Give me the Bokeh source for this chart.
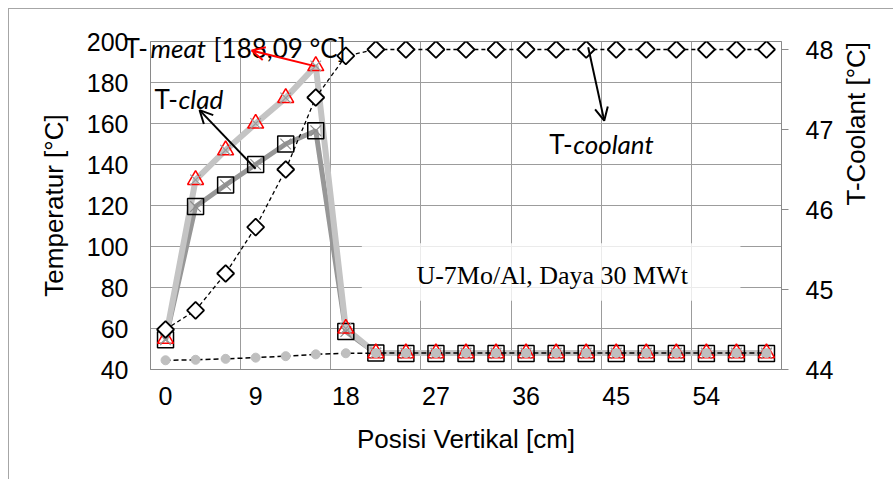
import math
from bokeh.plotting import figure
from bokeh.models import (Range1d, LinearAxis, FixedTicker, Label, Arrow,
                          OpenHead, BoxAnnotation)
from bokeh.embed import file_html
from bokeh.resources import INLINE

# ---------------- data ----------------
posisi = [0, 3, 6, 9, 12, 15, 18, 21, 24, 27, 30, 33, 36, 39, 42, 45, 48, 51, 54, 57, 60]
t_meat = [55, 132.5, 147, 160, 172.5, 188.09, 60, 48, 48, 48, 48, 48, 48, 48, 48, 48, 48, 48, 48, 48, 48]
t_clad = [54.5, 119.5, 130, 140, 150, 156.5, 58.5, 48, 47.8, 47.8, 47.8, 47.8, 47.8, 47.8, 47.8, 47.8, 47.8, 47.8, 47.8, 47.8, 47.8]
t_coolant = [44.5, 44.74, 45.2, 45.78, 46.5, 47.4, 47.92, 48, 48, 48, 48, 48, 48, 48, 48, 48, 48, 48, 48, 48, 48]
x_tick_labels = [0, 9, 18, 27, 36, 45, 54]
x_grid_bounds = [-1.5, 7.5, 16.5, 25.5, 34.5, 43.5, 52.5, 61.5]
y_left_ticks = [40, 60, 80, 100, 120, 140, 160, 180, 200]
y_right_ticks = [44, 45, 46, 47, 48]

GRID = "#9c9c9c"
AXIS = "#8a8a8a"
TICK_FONT = "Liberation Sans"

p = figure(frame_width=631, frame_height=328,
           min_border_left=141, min_border_top=29,
           min_border_right=113, min_border_bottom=110,
           x_range=Range1d(-1.5, 61.5), y_range=Range1d(40, 200),
           output_backend="svg", toolbar_location=None)
p.extra_y_ranges = {"cool": Range1d(44, 48.1)}
p.styles = {"margin-left": "8px", "margin-top": "8px",
            "border-left": "1px solid #a6a6a6", "border-top": "1px solid #a6a6a6"}

p.background_fill_color = "white"
p.border_fill_color = "white"
p.outline_line_color = AXIS
p.outline_line_width = 1

# grids
p.xgrid.ticker = FixedTicker(ticks=x_grid_bounds)
p.ygrid.ticker = FixedTicker(ticks=y_left_ticks)
for g in (p.xgrid, p.ygrid):
    g.grid_line_color = GRID
    g.grid_line_width = 1

# axes
xa = p.xaxis[0]
xa.ticker = FixedTicker(ticks=x_tick_labels)
xa.axis_label = "Posisi Vertikal [cm]"
ya = p.yaxis[0]
ya.ticker = FixedTicker(ticks=y_left_ticks)
ya.axis_label = "Temperatur [°C]"

ra = LinearAxis(y_range_name="cool", ticker=FixedTicker(ticks=y_right_ticks),
                axis_label="T-Coolant [°C]")
p.add_layout(ra, "right")

for ax in (xa, ya, ra):
    ax.axis_line_color = AXIS
    ax.major_tick_line_color = AXIS
    ax.minor_tick_line_color = None
    ax.major_tick_in = 0
    ax.major_tick_out = 0
    ax.major_label_text_font = TICK_FONT
    ax.major_label_text_font_size = "25px"
    ax.major_label_text_color = "black"
    ax.axis_label_text_font = TICK_FONT
    ax.axis_label_text_font_size = "26px"
    ax.axis_label_text_font_style = "normal"
    ax.axis_label_text_color = "black"
xa.major_label_standoff = 17
xa.axis_label_standoff = 16
ya.major_label_standoff = 22
ya.axis_label_standoff = 15
ra.major_tick_out = 7
ra.major_label_standoff = 17
ra.axis_label_standoff = 20
ra.axis_label_orientation = math.pi / 2

# ---------------- series ----------------
p.line(posisi, t_clad, line_color="#979797", line_width=5)
p.line(posisi, t_meat, line_color="#c4c4c4", line_width=6)
p.scatter(posisi, t_clad, marker="square", size=16, fill_color=None,
          line_color="black", line_width=1.5)
p.scatter(posisi, t_clad, marker="x", size=15, line_color="#8c8c8c", line_width=1.2)
p.scatter(posisi, t_meat, marker="triangle", size=16, fill_color=None,
          line_color="red", line_width=1.5)
p.scatter(posisi, t_meat, marker="x", size=15, line_color="#9a9a9a", line_width=1.2)

# coolant on left axis (grey dots)
p.line(posisi, t_coolant, line_color="black", line_width=1.5, line_dash="5 3")
p.scatter(posisi, t_coolant, marker="circle", size=9, fill_color="#bfbfbf",
          line_color="#bfbfbf")

# coolant on right axis (diamonds)
p.line(posisi, t_coolant, y_range_name="cool", line_color="black",
       line_width=1.3, line_dash="4 3")
p.scatter(posisi, t_coolant, y_range_name="cool", marker="square", angle=math.pi / 4,
          size=12, fill_color="white", line_color="black", line_width=1.8)

# ---------------- annotations ----------------
ANN_FONT = "Lato"
def mk(x, y, text, style="normal", font=ANN_FONT, align="left", **kw):
    return Label(x=x, y=y, text=text, text_font=font, text_font_size="26px",
                 text_font_style=style, text_baseline="middle",
                 text_align=align, text_color="black", **kw)

def lab(*a, **kw):
    p.add_layout(mk(*a, **kw))

# T-meat caption straddles the frame edge: its pieces go into side panels
p.add_layout(mk(-4.1, 197.0, "T-"), "left")
lab(-1.5, 197.0, "meat", "italic")
p.add_layout(mk(4.8, 197.0, "[188,09 °C]"), "above")

lab(-1.1, 171.9, "T-")
lab(1.3, 171.9, "clad", "italic")

lab(38.3, 150, "T-")
lab(40.7, 150, "coolant", "italic")

p.add_layout(BoxAnnotation(left=19.6, right=57.4, bottom=73.5, top=101.6,
                           fill_color="white", fill_alpha=0.8, line_color=None))
lab(38.6, 86, "U-7Mo/Al, Daya 30 MWt", font="Liberation Serif", align="center")

p.add_layout(Arrow(end=OpenHead(size=13, line_color="red", line_width=2),
                   x_start=14.9, y_start=188.0, x_end=8.6, y_end=195.6,
                   line_color="red", line_width=2))
p.add_layout(Arrow(end=OpenHead(size=13, line_color="black", line_width=2),
                   x_start=9.0, y_start=137.9, x_end=3.4, y_end=166.5,
                   line_color="black", line_width=2))
p.add_layout(Arrow(end=OpenHead(size=13, line_color="black", line_width=2),
                   x_start=42.2, y_start=197.2, x_end=43.8, y_end=161.4,
                   line_color="black", line_width=2))

open("out.html", "w").write(file_html(p, INLINE))
